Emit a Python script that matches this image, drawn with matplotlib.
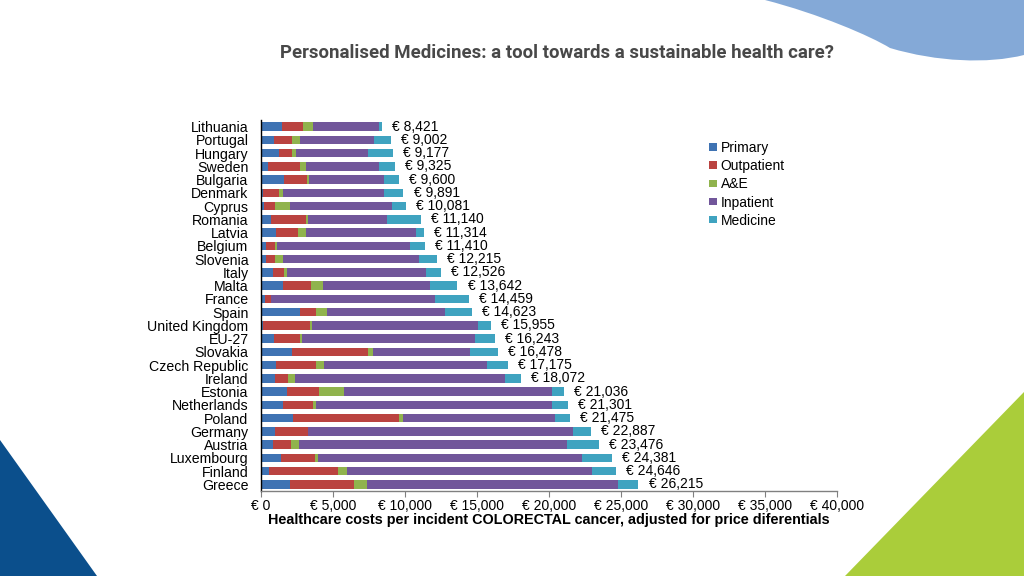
import matplotlib
matplotlib.use("Agg")
import matplotlib.pyplot as plt
from matplotlib.patches import Polygon, Patch, PathPatch
from matplotlib.path import Path
import numpy as np

countries = ["Lithuania", "Portugal", "Hungary", "Sweden", "Bulgaria", "Denmark", "Cyprus",
             "Romania", "Latvia", "Belgium", "Slovenia", "Italy", "Malta", "France", "Spain",
             "United Kingdom", "EU-27", "Slovakia", "Czech Republic", "Ireland", "Estonia",
             "Netherlands", "Poland", "Germany", "Austria", "Luxembourg", "Finland", "Greece"]

primary    = [1458, 880, 1227, 463, 1620, 116, 231, 718, 1042, 324, 324, 810, 1505, 278, 2685,
              139, 880, 2153, 1065, 949, 1806, 1505, 2199, 949, 810, 1366, 556, 2014]
outpatient = [1458, 1296, 949, 2269, 1597, 1157, 764, 2408, 1551, 671, 671, 787, 1945, 394, 1157,
              3264, 1806, 5301, 2778, 949, 2246, 2130, 7362, 2292, 1273, 2384, 4769, 4468]
ae         = [694, 556, 255, 394, 139, 255, 1019, 116, 532, 116, 509, 208, 833, 23, 741,
              139, 185, 301, 532, 463, 1690, 185, 324, 46, 579, 208, 648, 880]
medicine   = [255, 1157, 1736, 1134, 1065, 1366, 995, 2361, 579, 1088, 1250, 1042, 1921, 2408, 1875,
              903, 1389, 1968, 1505, 1134, 810, 1088, 1065, 1227, 2199, 2084, 1644, 1389]
totals     = [8421, 9002, 9177, 9325, 9600, 9891, 10081, 11140, 11314, 11410, 12215, 12526, 13642,
              14459, 14623, 15955, 16243, 16478, 17175, 18072, 21036, 21301, 21475, 22887, 23476,
              24381, 24646, 26215]

inpatient = [t - p - o - a - m for t, p, o, a, m in zip(totals, primary, outpatient, ae, medicine)]

series_names = ["Primary", "Outpatient", "A&E", "Inpatient", "Medicine"]
series_vals = [primary, outpatient, ae, inpatient, medicine]
colors = ["#3F73B3", "#BA4340", "#90B34D", "#71569A", "#3FA3C0"]

xticks = [0, 5000, 10000, 15000, 20000, 25000, 30000, 35000, 40000]
xticklabels = ["€ 0", "€ 5,000", "€ 10,000", "€ 15,000", "€ 20,000", "€ 25,000",
               "€ 30,000", "€ 35,000", "€ 40,000"]

plt.rcParams['font.family'] = ['Liberation Sans', 'DejaVu Sans']

fig = plt.figure(figsize=(10.24, 5.76), dpi=100)
fig.patch.set_facecolor("white")

W, H = 1024.0, 576.0
def fp(pts):
    return [(x / W, 1 - y / H) for x, y in pts]

tri_blue = Polygon(fp([(0, 440), (97, 576), (0, 576)]), closed=True, transform=fig.transFigure,
                   facecolor="#0B4F8C", edgecolor="none", zorder=0)
tri_green = Polygon(fp([(1024, 392), (845, 576), (1024, 576)]), closed=True, transform=fig.transFigure,
                    facecolor="#AACD3A", edgecolor="none", zorder=0)
fig.patches.extend([tri_blue, tri_green])

wave_pts = fp([(765, 0), (807, 13), (850, 32), (890, 48), (920, 58), (957, 62.5), (993, 60),
               (1024, 55), (1024, 0)])
verts = [wave_pts[0], (0.80, 1 - 14 / H), (0.85, 1 - 36 / H), wave_pts[3],
         (0.915, 1 - 62 / H), (0.965, 1 - 64 / H), wave_pts[7], wave_pts[8], wave_pts[0]]
codes = [Path.MOVETO, Path.CURVE4, Path.CURVE4, Path.CURVE4,
         Path.CURVE4, Path.CURVE4, Path.CURVE4, Path.LINETO, Path.CLOSEPOLY]
wave = PathPatch(Path(verts, codes), transform=fig.transFigure, facecolor="#84A9D7",
                 edgecolor="none", zorder=0)
fig.patches.append(wave)

fig.text(557 / W, 1 - 53 / H, "Personalised Medicines: a tool towards a sustainable health care?",
         ha="center", va="center", fontsize=13.4, fontweight="bold", color="#484848",
         family=["Roboto", "DejaVu Sans"])

ax = fig.add_axes([261 / W, 1 - 491 / H, (837 - 261) / W, (491 - 120) / H])
ax.set_facecolor("none")

n = len(countries)
y = np.arange(n)
left = np.zeros(n)
handles = []
for name, vals, c in zip(series_names, series_vals, colors):
    v = np.array(vals, dtype=float)
    ax.barh(y, v, left=left, height=0.66, color=c, edgecolor="none", label=name)
    left += v
    handles.append(Patch(facecolor=c, edgecolor="none", label=name))

for yi, t in zip(y, totals):
    ax.text(t + 700, yi, f"€ {t:,}", va="center", ha="left", fontsize=10, color="black")

ax.set_ylim(n - 0.5, -0.5)
ax.set_xlim(0, 40000)
ax.set_yticks(y)
ax.set_yticklabels(countries, fontsize=10.2)
ax.set_xticks(xticks)
ax.set_xticklabels(xticklabels, fontsize=10)
ax.tick_params(axis="y", length=0, pad=9)
ax.tick_params(axis="x", direction="out", length=4, color="#808080", pad=1.5)
for s in ["top", "right"]:
    ax.spines[s].set_visible(False)
ax.spines["left"].set_color("black")
ax.spines["left"].set_linewidth(1.0)
ax.spines["bottom"].set_color("#808080")
ax.spines["bottom"].set_linewidth(1.0)

ax.set_xlabel("Healthcare costs per incident COLORECTAL cancer, adjusted for price diferentials",
              fontsize=10.4, fontweight="bold", labelpad=0)

leg = fig.legend(handles=handles, loc="upper left", bbox_to_anchor=(709 / W, 1 - 141 / H),
                 bbox_transform=fig.transFigure, frameon=False, fontsize=10,
                 handlelength=0.55, handleheight=0.45, handletextpad=0.3, labelspacing=0.3,
                 borderpad=0, borderaxespad=0)

fig.savefig("out.png", dpi=100, facecolor="white")
